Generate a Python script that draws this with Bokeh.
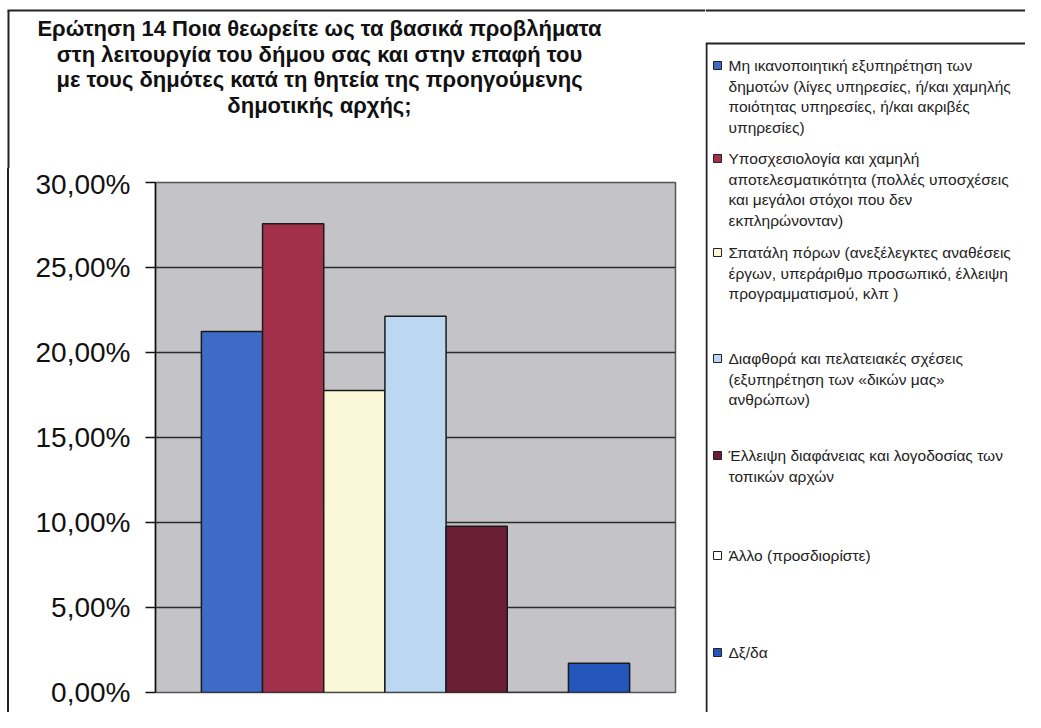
from bokeh.plotting import figure
from bokeh.models import Range1d, FixedTicker, ColumnDataSource, Spacer, InlineStyleSheet
from bokeh.layouts import row, column
from bokeh.embed import file_html
from bokeh.resources import INLINE
from bokeh.core.properties import value

# ---------------- data ----------------
title_lines = [
    "Ερώτηση 14 Ποια θεωρείτε ως τα βασικά προβλήματα",
    "στη λειτουργία του δήμου σας και στην επαφή του",
    "με τους δημότες κατά τη θητεία της προηγούμενης",
    "δημοτικής αρχής;",
]

categories = [
    "Μη ικανοποιητική εξυπηρέτηση των\nδημοτών (λίγες υπηρεσίες, ή/και χαμηλής\nποιότητας υπηρεσίες, ή/και ακριβές\nυπηρεσίες)",
    "Υποσχεσιολογία και χαμηλή\nαποτελεσματικότητα (πολλές υποσχέσεις\nκαι μεγάλοι στόχοι που δεν\nεκπληρώνονταν)",
    "Σπατάλη πόρων (ανεξέλεγκτες αναθέσεις\nέργων, υπεράριθμο προσωπικό, έλλειψη\nπρογραμματισμού, κλπ )",
    "Διαφθορά και πελατειακές σχέσεις\n(εξυπηρέτηση των «δικών μας»\nανθρώπων)",
    "Έλλειψη διαφάνειας και λογοδοσίας των\nτοπικών αρχών",
    "Άλλο (προσδιορίστε)",
    "Δξ/δα",
]
values = [0.2124, 0.2757, 0.1776, 0.2213, 0.0978, 0.0, 0.0172]
colors = ["#3d6bc6", "#a3304b", "#fbf8d8", "#bcd7f2", "#6a1f35", "#ffffff", "#2456bb"]

y_ticks = [0, 0.05, 0.1, 0.15, 0.2, 0.25, 0.3]
y_tick_labels = ["0,00%", "5,00%", "10,00%", "15,00%", "20,00%", "25,00%", "30,00%"]

FONT = "Liberation Sans"
FRAME = "#222222"


def blank_fig(w, h, xr, yr):
    f = figure(width=w, height=h, x_range=xr, y_range=yr,
               output_backend="svg", toolbar_location=None, min_border=0)
    f.frame_align = False
    f.axis.visible = False
    f.grid.visible = False
    f.outline_line_color = None
    return f


# ---------------- title figure ----------------
TW, TH = 705, 168
tf = blank_fig(TW, TH, Range1d(0, TW), Range1d(TH, 0))
tf.segment(x0=[7, 8], y0=[10, 10], x1=[TW, 8], y1=[10, TH],
           line_color=FRAME, line_width=2)
title_src = ColumnDataSource(dict(
    x=[319] * len(title_lines),
    y=[28 + i * 25.5 for i in range(len(title_lines))],
    t=title_lines))
tf.text(x="x", y="y", text="t", source=title_src, text_font=value(FONT),
        text_font_style="bold", text_font_size="22px", text_color="#111111",
        text_align="center", text_baseline="middle")

# ---------------- chart figure ----------------
PH = 544
p = figure(width=696, height=PH, x_range=Range1d(0, 8.5), y_range=Range1d(0, 0.30),
           output_backend="svg", toolbar_location=None,
           min_border_left=146, min_border_right=30, min_border_top=14, min_border_bottom=20)
p.frame_align = False
# outer frame's left edge, drawn just left of the chart figure
p.stylesheets = [InlineStyleSheet(css=":host { box-shadow: -2px 0 0 0 %s; }" % FRAME)]
gap = 1.5
bar_src = ColumnDataSource(dict(
    x=[gap / 2 + 0.5 + i for i in range(len(values))],
    top=values, color=colors))
p.vbar(x="x", top="top", bottom=0, width=1, fill_color="color",
       line_color="#1a1a1a", line_width=1.5, source=bar_src)

ticker = FixedTicker(ticks=y_ticks)
p.yaxis.ticker = ticker
p.ygrid.ticker = ticker
p.yaxis.major_label_overrides = dict(zip(y_ticks, y_tick_labels))
p.yaxis.major_label_text_font = FONT
p.yaxis.major_label_text_font_size = "28px"
p.yaxis.major_label_text_color = "#111111"
p.yaxis.major_label_standoff = 15
p.yaxis.major_tick_in = 0
p.yaxis.major_tick_out = 10
p.yaxis.major_tick_line_color = "#111111"
p.yaxis.major_tick_line_width = 1.5
p.yaxis.minor_tick_line_color = None
p.yaxis.axis_line_color = "#111111"
p.yaxis.axis_line_width = 1.5
p.xaxis.visible = False
p.xgrid.visible = False
p.ygrid.grid_line_color = "#2b2b2b"
p.ygrid.grid_line_width = 1.5
p.background_fill_color = "#c4c4c8"
p.border_fill_color = "white"
p.outline_line_color = "#555555"
p.outline_line_width = 1.5

# ---------------- legend figure ----------------
LW, LH = 320, 712
lg = blank_fig(LW, LH, Range1d(0, LW), Range1d(LH, 0))
lg.segment(x0=[0, 0, 1], y0=[10, 43, 43], x1=[LW, LW, 1], y1=[10, 43, LH],
           line_color=FRAME, line_width=2)

entry_tops = [65, 158, 252, 358, 455, 555, 652]
line_h = 20.5
mx, my, lx, ly, lt = [], [], [], [], []
for cat, top in zip(categories, entry_tops):
    mx.append(12)
    my.append(top)
    for j, ln in enumerate(cat.split("\n")):
        lx.append(23)
        ly.append(top + j * line_h)
        lt.append(ln)
lg.rect(x=mx, y=my, width=8, height=8, fill_color=colors, line_color="#222222", line_width=1)
lg.text(x=lx, y=ly, text=lt, text_font=value(FONT), text_font_size="15.5px",
        text_color="#222222", text_align="left", text_baseline="middle")

# ---------------- layout ----------------
chart_row = row(Spacer(width=9, height=PH, margin=0), p, spacing=0)
layout = row(column(tf, chart_row, spacing=0), lg, spacing=0)

open("out.html", "w").write(file_html(layout, INLINE))
